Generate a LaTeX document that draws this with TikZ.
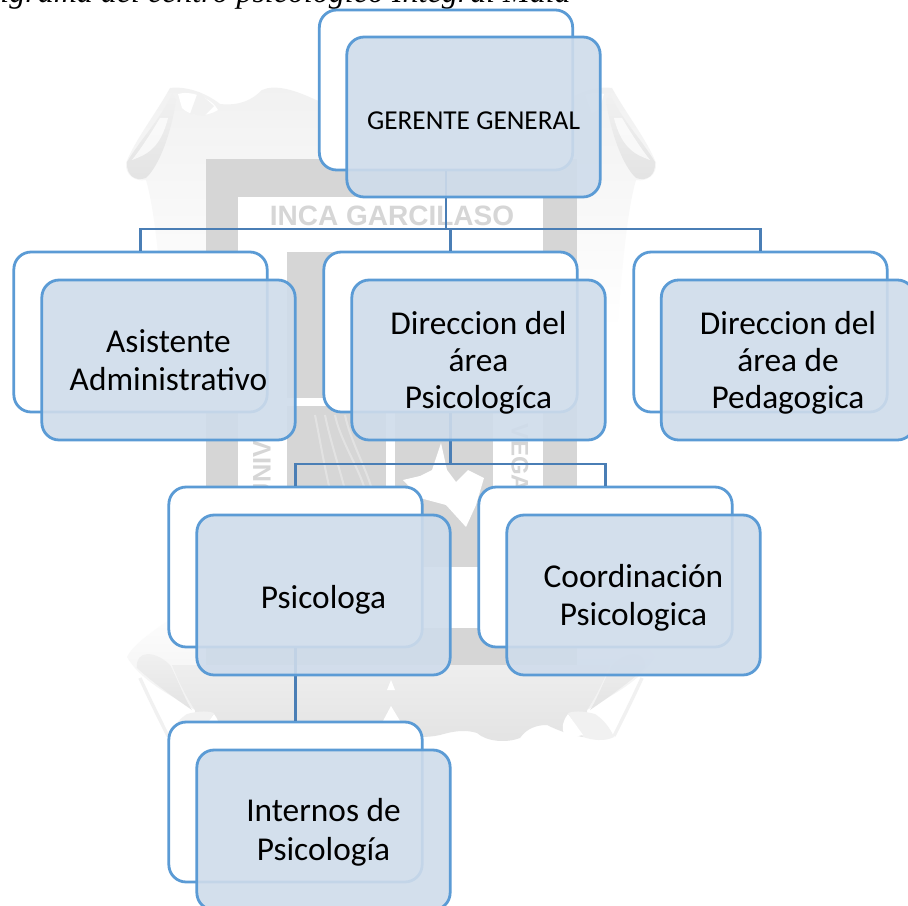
\documentclass[tikz,border=0pt]{standalone}
\usepackage{fontspec}
\setmainfont{Carlito}
\newfontfamily\titlefont{Liberation Serif}
\newfontfamily\markfont{Liberation Sans}
\definecolor{boxline}{HTML}{5B9BD5}
\definecolor{linkline}{HTML}{4A7EB5}
\definecolor{frontfill}{HTML}{CFDCEB}
\definecolor{markgray}{HTML}{D6D6D6}
\definecolor{marklight}{HTML}{F1F1F1}
\definecolor{markmid}{HTML}{E3E3E3}
\tikzset{
  x=0.75pt,y=-0.75pt,
  backbox/.style={draw=boxline,fill=white,line width=2.1pt,rounded corners=13pt,minimum width=190pt,minimum height=120pt,inner sep=0pt},
  frontbox/.style={draw=boxline,fill=frontfill,fill opacity=0.9,text opacity=1,line width=2.1pt,rounded corners=13pt,minimum width=190pt,minimum height=120pt,align=center,inner sep=0pt,font=\fontsize{25}{29}\selectfont},
  link/.style={draw=linkline,line width=2pt},
  scroll/.style={draw=none,top color=marklight,bottom color=markmid}
}
\newcommand{\dn}[2]{\raisebox{-#1pt}[\height][\depth]{#2}}
\newcommand{\halfmark}{%
  \shade[top color=marklight,bottom color=white,draw=none] (391,112) .. controls (365,112) and (340,108) .. (316,100) .. controls (295,90) and (275,84) .. (262,90) .. controls (252,100) and (240,106) .. (220,104) .. controls (205,92) and (185,86) .. (170,88) .. controls (155,115) and (135,140) .. (126,163) .. controls (125,175) and (135,182) .. (146,180) .. controls (155,210) and (160,270) .. (165,330) -- (391,330) -- cycle;
  \shade[scroll] (172,94) .. controls (160,120) and (140,140) .. (127,162) .. controls (126,175) and (135,182) .. (146,178) .. controls (160,165) and (172,130) .. (176,100) -- cycle;
  \fill[white,opacity=.7] (160,118) .. controls (150,135) and (140,150) .. (132,160) .. controls (145,155) and (160,150) .. (168,118) -- cycle;
  \fill[white] (178,94) .. controls (190,90) and (212,98) .. (218,110) .. controls (205,118) and (190,116) .. (182,108) -- cycle;
  \fill[marklight] (198,92) -- (190,114) -- (204,116) -- (214,106) -- cycle;
  \shade[top color=white,bottom color=marklight,draw=none] (200,600) -- (391,600) -- (391,700) -- (195,710) .. controls (170,695) and (140,680) .. (127,657) .. controls (135,640) and (170,620) .. (200,600) -- cycle;
  \shade[draw=none,top color=marklight,bottom color=markmid] (137,668) .. controls (135,650) and (155,650) .. (170,665) .. controls (178,680) and (185,700) .. (192,710) .. controls (170,695) and (150,680) .. (137,668) -- cycle;
  \draw[marklight,line width=2.5pt] (140,678) .. controls (150,700) and (160,720) .. (168,736);
  \shade[draw=none,top color=markmid!60!white,bottom color=markmid] (172,665) -- (391,665) -- (391,737) .. controls (370,737) and (355,738) .. (342,735) .. controls (325,730) and (315,730) .. (305,733) .. controls (295,742) and (275,743) .. (262,738) .. controls (255,728) and (245,725) .. (235,725) .. controls (225,730) and (212,735) .. (199,737) .. controls (195,725) and (195,715) .. (195,710) .. controls (185,695) and (178,680) .. (172,665) -- cycle;
  \fill[marklight] (214,713) .. controls (205,710) and (195,712) .. (187,714) .. controls (178,720) and (172,728) .. (168,737) .. controls (178,742) and (190,740) .. (199,737) -- cycle;
  \fill[white] (214,714) .. controls (220,722) and (222,732) .. (214,738) -- (199,735) -- cycle;
}
\begin{document}
\begin{tikzpicture}
\useasboundingbox (0,0) rectangle (908,906);
\clip (0,0) rectangle (908,906);
\fill[white] (0,0) rectangle (908,906);
% watermark
\halfmark
\begin{scope}[shift={(782,0)},xscale=-1]
\halfmark
\end{scope}
\fill[white] (391,680) -- (387,690) -- (395,690) -- cycle;
\fill[white] (391,706) -- (383,721) -- (400,721) -- cycle;
\fill[markgray] (206,159) rectangle (577,665);
\fill[white] (238,197) rectangle (543,628);
\fill[markgray] (287,252) rectangle (386,567);
\fill[markgray] (395,252) rectangle (493,567);
\fill[white] (287,398) rectangle (493,406);
\foreach \xa/\xb in {315/330,325/345,335/365,345/372}{\draw[white,opacity=.3,line width=1.5pt] (\xa,415) .. controls (\xa+5,440) and (\xb-5,470) .. (\xb,490);}
\fill[white] (441,443) -- (447,470) -- (456,482) -- (468,470) -- (484,478) -- (476,505) -- (466,527) -- (446,505) -- (420,498) -- (403,480) -- (420,476) -- (432,470) -- cycle;
\node[font=\markfont\bfseries\fontsize{21}{25}\selectfont,text=markgray,inner sep=0pt] (wm) at (392,216) {INCA GARCILASO};
\node[font=\markfont\bfseries\fontsize{19}{22}\selectfont,text=markgray,rotate=90,inner sep=0pt] (wmu) at (262,471) {UNIV};
\node[font=\markfont\bfseries\fontsize{18}{22}\selectfont,text=markgray,rotate=-90,inner sep=0pt] (wmv) at (520,458) {VEGA};
% title
\node[anchor=base east,font=\titlefont\itshape\fontsize{24}{28}\selectfont,inner sep=0pt] (title) at (571,3) {Organigrama del centro psicológico Integral Mala};
% back boxes
\node[backbox] (b0) at (446,90) {};
\node[backbox] (b1) at (140.5,332) {};
\node[backbox] (b2) at (450.5,332) {};
\node[backbox] (b3) at (760.5,332) {};
\node[backbox] (b4) at (295.5,567) {};
\node[backbox] (b5) at (605.5,567) {};
\node[backbox] (b6) at (295.5,802) {};
% connectors
\coordinate (j0) at (446,229);
\coordinate (j1) at (450.5,464);
\draw[link] (b0.south) -- (j0);
\draw[link] (j0) -| (b1.north);
\draw[link] (j0) -| (b2.north);
\draw[link] (j0) -| (b3.north);
\draw[link] (b2.south) -- (j1);
\draw[link] (j1) -| (b4.north);
\draw[link] (j1) -| (b5.north);
\draw[link] (b4.south) -- (b6.north);
% front boxes
\node[frontbox,font=\fontsize{20.5}{25}\selectfont] (f0) at (473.5,117) {\dn{3}{GERENTE GENERAL}};
\node[frontbox] (f1) at (168.5,360) {Asistente\\Administrativo};
\node[frontbox] (f2) at (478.5,360) {\dn{3}{Direccion del}\\\dn{2.2}{área}\\\dn{0.8}{Psicologíca}};
\node[frontbox] (f3) at (788,360) {\dn{3}{Direccion del}\\\dn{2.2}{área de}\\\dn{0.8}{Pedagogica}};
\node[frontbox] (f4) at (323.5,595) {\dn{3.5}{Psicologa}};
\node[frontbox] (f5) at (633.5,595) {\dn{2.2}{Coordinación}\\\dn{2.2}{Psicologica}};
\node[frontbox] (f6) at (323.5,830) {\dn{1.5}{Internos de}\\\dn{1.5}{Psicología}};
\end{tikzpicture}
\end{document}
